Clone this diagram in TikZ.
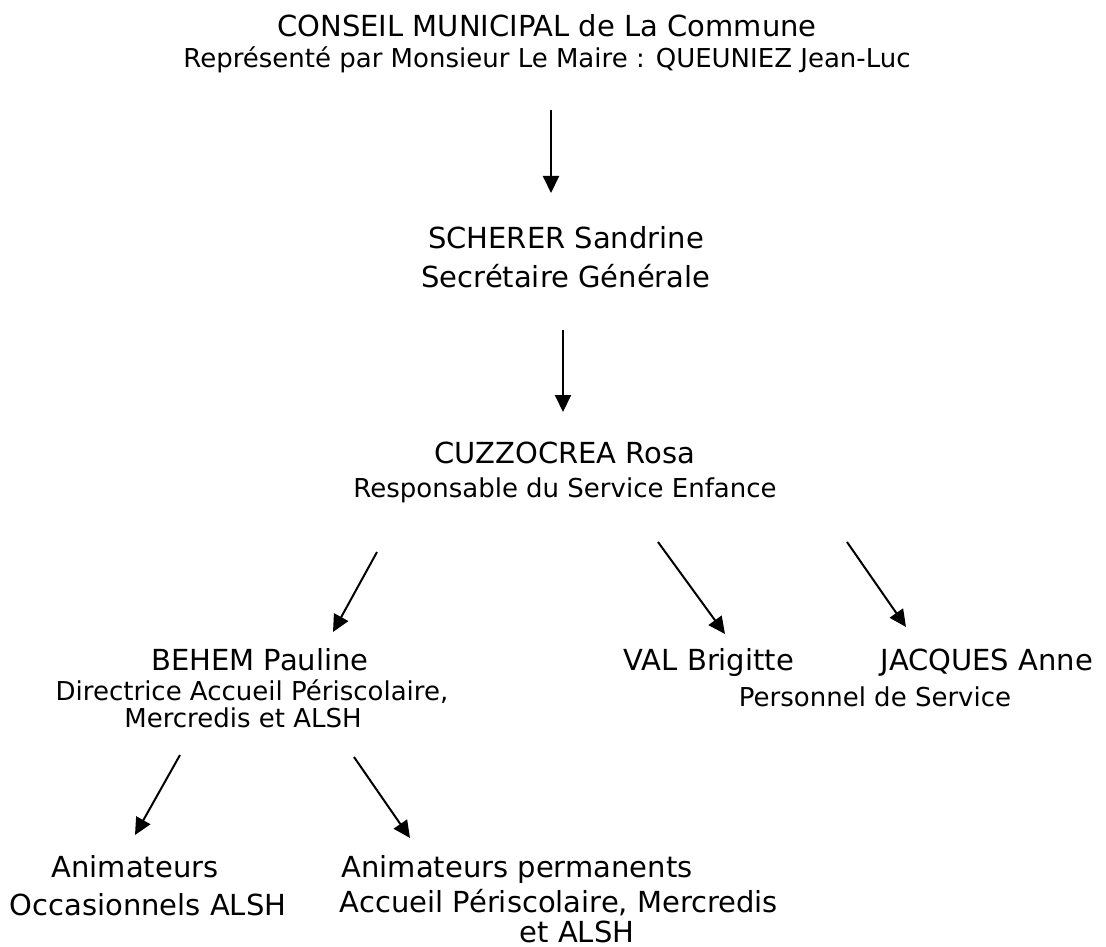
\documentclass[tikz,border=0pt]{standalone}
\usepackage{fontspec}
\setmainfont{DejaVu Sans}
\usetikzlibrary{arrows.meta}
\tikzset{
  big/.style={font=\fontsize{29}{34}\selectfont, anchor=base, inner sep=0pt},
  small/.style={font=\fontsize{26}{31}\selectfont, anchor=base, inner sep=0pt}
}
\begin{document}
\begin{tikzpicture}[x=1pt, y=-1pt, line width=2pt, >={Triangle[length=17pt,width=16pt]}]
            \useasboundingbox (0,0) rectangle (1106,947);
            % top
            \node[big] (conseil) at (547,37) {CONSEIL MUNICIPAL de La Commune};
            \node[small] (maire) at (547,68) {Représenté par Monsieur Le Maire : QUEUNIEZ Jean-Luc};
            \node[big] (scherer) at (566,248) {SCHERER Sandrine};
            \node[big] (secgen) at (566,287) {Secrétaire Générale};
            \node[big] (cuzzo) at (565,463) {CUZZOCREA Rosa};
            \node[small] (enfance) at (565,497) {Responsable du Service Enfance};
            % third row
            \node[big] (behem) at (260,670) {BEHEM Pauline};
            \node[small] (direct) at (252,700) {Directrice Accueil Périscolaire,};
            \node[small] (mercr) at (243,727) {Mercredis et ALSH};
            \node[big] (val) at (709,670) {VAL Brigitte};
            \node[big] (jacques) at (987,670) {JACQUES Anne};
            \node[small] (perso) at (875,706) {Personnel de Service};
            % bottom
            \node[big] (anim) at (135,877) {Animateurs};
            \node[big] (occas) at (148,915) {Occasionnels ALSH};
            \node[big] (perm) at (517,877) {Animateurs permanents};
            \node[big] (accueil) at (559,912) {Accueil Périscolaire, Mercredis};
            \node[big] (etalsh) at (577,942) {et ALSH};
            % arrows
            \foreach \xa/\ya/\xb/\yb [count=\k] in {551/110/551/193, 563/330/563/412,
                377/552/333/632, 658/542/725/634, 847/542/906/627,
                180/755/135/835, 354/757/410/838}{
                \coordinate (from\k) at (\xa,\ya);
                \coordinate (to\k) at (\xb,\yb);
                \draw[->] (from\k) -- (to\k);
            }
        \end{tikzpicture}
\end{document}
